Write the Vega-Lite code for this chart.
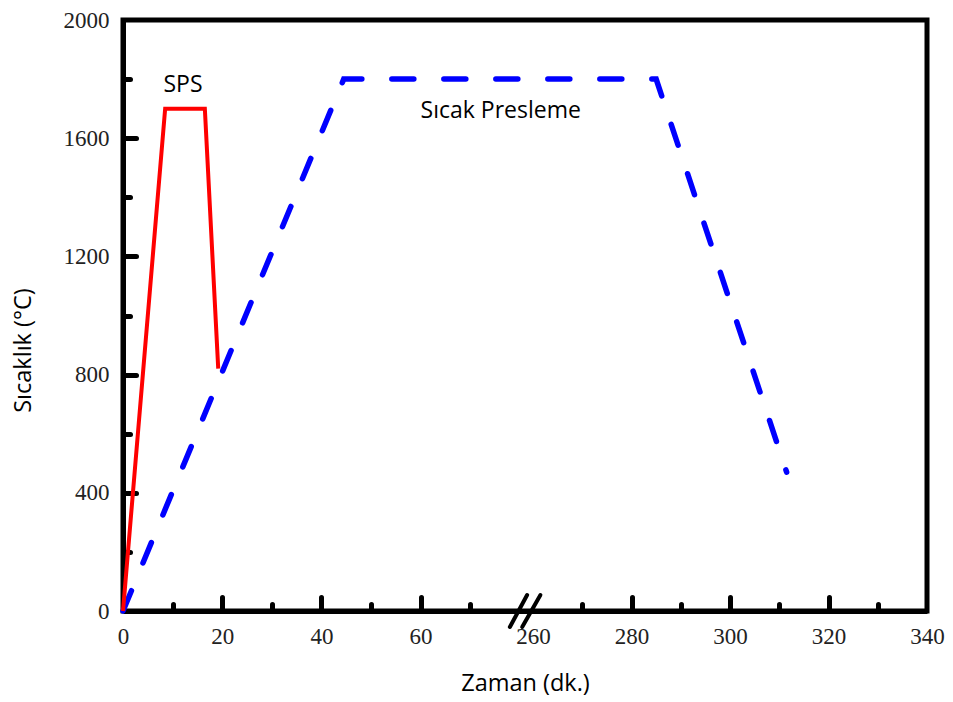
{
  "$schema": "https://vega.github.io/schema/vega-lite/v6.json",
  "width": 804,
  "height": 591,
  "autosize": "none",
  "padding": {"left": 123, "top": 20, "right": 26, "bottom": 91},
  "background": "white",
  "config": {
    "view": {"stroke": "black", "strokeWidth": 5}
  },
  "datasets": {
    "lines": [
      {"series": "SPS", "t": 0, "temp": 0},
      {"series": "SPS", "t": 8.5, "temp": 1700},
      {"series": "SPS", "t": 16.5, "temp": 1700},
      {"series": "SPS", "t": 19.2, "temp": 820},
      {"series": "Sıcak Presleme", "t": 0, "temp": 0},
      {"series": "Sıcak Presleme", "t": 44.5, "temp": 1800},
      {"series": "Sıcak Presleme", "t": 285, "temp": 1800},
      {"series": "Sıcak Presleme", "t": 311.5, "temp": 470}
    ],
    "labels": [
      {"t": 12.1, "temp": 1756, "text": "SPS"},
      {"t": 60, "temp": 1668, "text": "Sıcak Presleme"}
    ],
    "breaks": [
      {"t": 255.3, "t2": 258.8, "temp": -54, "temp2": 54},
      {"t": 257.8, "t2": 261.5, "temp": -54, "temp2": 54}
    ]
  },
  "encoding": {
    "x": {
      "field": "t",
      "type": "quantitative",
      "scale": {"domain": [0, 75, 255, 340], "range": [0, 372, 385.4, 804], "nice": false, "zero": false},
      "axis": {
        "values": [0, 10, 20, 30, 40, 50, 60, 70, 260, 270, 280, 290, 300, 310, 320, 330, 340],
        "title": "Zaman (dk.)",
        "labelExpr": "datum.value % 20 === 0 ? datum.label : ''",
        "labelFont": "Liberation Serif",
        "labelFontSize": 23,
        "labelColor": "#222222",
        "labelPadding": 28,
        "labelFlush": false,
        "labelOverlap": false,
        "tickSize": {"condition": {"test": "datum.value % 20 === 0", "value": -14}, "value": -7},
        "tickWidth": 5,
        "tickCap": "round",
        "tickColor": "black",
        "tickOpacity": {"condition": {"test": "datum.value === 0 || datum.value === 260 || datum.value === 340", "value": 0}, "value": 1},
        "domainColor": "black",
        "domainWidth": 5,
        "grid": false,
        "titleFont": "Open Sans",
        "titleFontSize": 23.5,
        "titleFontWeight": "normal",
        "titleColor": "black",
        "titleY": 72,
        "titleBaseline": "middle"
      }
    },
    "y": {
      "field": "temp",
      "type": "quantitative",
      "scale": {"domain": [0, 2000], "nice": false, "zero": false},
      "axis": {
        "values": [0, 200, 400, 600, 800, 1000, 1200, 1400, 1600, 1800, 2000],
        "format": "d",
        "title": "Sıcaklık (°C)",
        "labelExpr": "datum.value % 400 === 0 ? datum.label : ''",
        "labelFont": "Liberation Serif",
        "labelFontSize": 23,
        "labelColor": "#222222",
        "labelPadding": 27,
        "labelFlush": false,
        "labelOverlap": false,
        "tickSize": {"condition": {"test": "datum.value % 400 === 0", "value": -13}, "value": -7},
        "tickWidth": 5,
        "tickCap": "round",
        "tickColor": "black",
        "tickOpacity": {"condition": {"test": "datum.value === 0 || datum.value === 2000", "value": 0}, "value": 1},
        "domainColor": "black",
        "domainWidth": 5,
        "grid": false,
        "titleFont": "Open Sans",
        "titleFontSize": 23.5,
        "titleFontWeight": "normal",
        "titleColor": "black",
        "titleX": -100,
        "titleY": 330,
        "titleAngle": -90,
        "titleBaseline": "middle"
      }
    }
  },
  "layer": [
    {
      "data": {"name": "lines"},
      "transform": [{"filter": "datum.series === 'Sıcak Presleme'"}],
      "mark": {"type": "line", "color": "#0000ff", "strokeWidth": 5.5, "strokeDash": [22, 30], "strokeCap": "round"}
    },
    {
      "data": {"name": "lines"},
      "transform": [{"filter": "datum.series === 'SPS'"}],
      "mark": {"type": "line", "color": "#ff0000", "strokeWidth": 4, "strokeJoin": "miter"}
    },
    {
      "data": {"name": "labels"},
      "transform": [{"filter": "datum.text === 'SPS'"}],
      "mark": {"type": "text", "font": "Open Sans", "fontSize": 23, "color": "black", "baseline": "alphabetic", "align": "center"},
      "encoding": {"text": {"field": "text"}}
    },
    {
      "data": {"name": "labels"},
      "transform": [{"filter": "datum.text === 'Sıcak Presleme'"}],
      "mark": {"type": "text", "font": "Open Sans", "fontSize": 23, "color": "black", "baseline": "alphabetic", "align": "left"},
      "encoding": {"text": {"field": "text"}}
    },
    {
      "data": {"name": "breaks"},
      "mark": {"type": "rule", "color": "black", "strokeWidth": 4, "strokeCap": "round"},
      "encoding": {
        "x2": {"field": "t2"},
        "y2": {"field": "temp2"}
      }
    }
  ]
}
